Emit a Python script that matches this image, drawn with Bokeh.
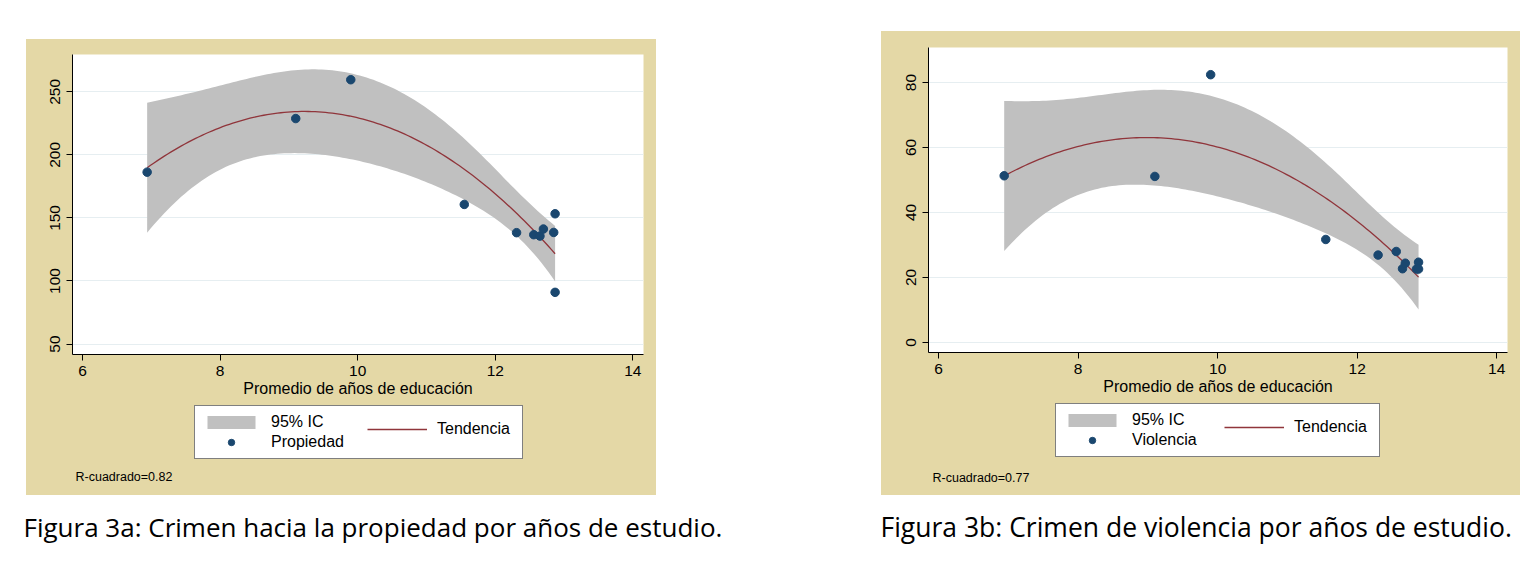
import numpy as np
from bokeh.plotting import figure
from bokeh.models import (Range1d, Legend, LegendItem, Label, Spacer)
from bokeh.layouts import row, column
from bokeh.embed import file_html
from bokeh.resources import INLINE

# ---------------- data ----------------
educ_a = [6.94, 9.10, 9.90, 11.55, 12.31, 12.56, 12.65, 12.70, 12.85, 12.87, 12.87]
propiedad = [186.3, 228.8, 259.6, 160.7, 138.3, 136.7, 135.6, 141.2, 138.5, 153.3, 91.0]

educ_b = [6.94, 9.10, 9.90, 11.55, 12.30, 12.56, 12.65, 12.69, 12.85, 12.88, 12.88]
violencia = [51.3, 51.1, 82.4, 31.7, 26.9, 28.0, 22.7, 24.4, 22.6, 24.7, 22.6]

x_ticks = [6, 8, 10, 12, 14]
y_ticks_a = [50, 100, 150, 200, 250]
y_ticks_b = [0, 20, 40, 60, 80]

label_x = "Promedio de años de educación"
legend_ci = "95% IC"
legend_fit = "Tendencia"
r2_a = "R-cuadrado=0.82"
r2_b = "R-cuadrado=0.77"
caption_a = "Figura 3a: Crimen hacia la propiedad por años de estudio."
caption_b = "Figura 3b: Crimen de violencia por años de estudio."

# ---------------- styles ----------------
BEIGE = "#e4d8a6"
GRID = "#e6eef1"
NAVY = "#1a476f"
MAROON = "#90353b"
CI_GRAY = "#c0c0c0"
FONT = "Liberation Sans"
T975 = 2.306  # Student t, 0.975 quantile, 8 degrees of freedom (11 obs - 3)


def qfit_ci(x, y, n=120):
    """Quadratic least-squares fit with 95% CI of the mean prediction."""
    x = np.asarray(x, float)
    y = np.asarray(y, float)
    X = np.column_stack([np.ones_like(x), x, x ** 2])
    beta, *_ = np.linalg.lstsq(X, y, rcond=None)
    resid = y - X @ beta
    s2 = resid @ resid / (len(x) - 3)
    xtxi = np.linalg.inv(X.T @ X)
    xg = np.linspace(x.min(), x.max(), n)
    G = np.column_stack([np.ones_like(xg), xg, xg ** 2])
    yhat = G @ beta
    se = np.sqrt(s2 * np.einsum("ij,jk,ik->i", G, xtxi, G))
    return xg, yhat, yhat - T975 * se, yhat + T975 * se


def add_series(p, xs, ys, fitres):
    xg, yhat, lo, hi = fitres
    band = p.varea(x=xg, y1=lo, y2=hi, fill_color=CI_GRAY, fill_alpha=1.0)
    fit = p.line(x=xg, y=yhat, line_color=MAROON, line_width=1.3)
    pts = p.scatter(x=xs, y=ys, size=8.5, fill_color=NAVY, line_color=NAVY)
    return band, fit, pts


def plot_panel(xs, ys, fitres, yticks, yrange, w, h, borders):
    p = figure(width=w, height=h, title=None,
               x_range=Range1d(5.855, 14.155), y_range=Range1d(*yrange),
               output_backend="svg", toolbar_location=None,
               min_border_left=borders[0], min_border_right=borders[1],
               min_border_top=borders[2], min_border_bottom=borders[3])
    p.border_fill_color = BEIGE
    p.background_fill_color = "white"
    p.outline_line_color = None

    add_series(p, xs, ys, fitres)

    p.xgrid.visible = False
    p.ygrid.ticker = yticks
    p.ygrid.grid_line_color = GRID
    p.ygrid.grid_line_width = 1

    for ax in (p.xaxis[0], p.yaxis[0]):
        ax.axis_line_color = "black"
        ax.axis_line_width = 1
        ax.major_tick_line_color = "black"
        ax.major_tick_in = 0
        ax.major_tick_out = 6
        ax.minor_tick_line_color = None
        ax.major_label_text_font = FONT
        ax.major_label_text_font_size = "15.5px"
        ax.major_label_text_color = "black"
    p.xaxis.ticker = x_ticks
    p.yaxis.ticker = yticks
    p.xaxis.major_label_standoff = 5
    p.yaxis.major_label_standoff = 6
    p.yaxis.major_label_orientation = "vertical"
    p.xaxis.axis_label = label_x
    p.xaxis.axis_label_text_font = FONT
    p.xaxis.axis_label_text_font_size = "16px"
    p.xaxis.axis_label_text_font_style = "normal"
    p.xaxis.axis_label_text_color = "black"
    p.xaxis.axis_label_standoff = 1
    return p


def legend_panel(xs, ys, fitres, series_name, r2_text, w, h,
                 box_x, box_y, box_w, col2_x, r2_x, r2_y):
    # ranges chosen so that the series itself lies outside this strip;
    # its renderers only feed the legend keys
    p = figure(width=w, height=h, title=None,
               x_range=Range1d(-20, -19), y_range=Range1d(-20, -19),
               x_axis_location=None, y_axis_location=None,
               output_backend="svg", toolbar_location=None, min_border=0)
    p.outline_line_color = None
    p.xgrid.visible = False
    p.ygrid.visible = False
    p.background_fill_alpha = 0.0
    p.border_fill_alpha = 0.0

    band, fit, pts = add_series(p, xs, ys, fitres)

    common = dict(glyph_width=60, glyph_height=16, label_standoff=10,
                  label_height=20, spacing=0, padding=6, margin=0,
                  label_text_font=FONT, label_text_font_size="16px",
                  label_text_color="black", orientation="vertical")
    l1 = Legend(items=[LegendItem(label=legend_ci, renderers=[band]),
                       LegendItem(label=series_name, renderers=[pts])],
                location=(box_x, box_y), label_width=box_w - 82,
                border_line_color="black", border_line_width=1,
                background_fill_color="white", background_fill_alpha=1.0,
                **common)
    l2 = Legend(items=[LegendItem(label=legend_fit, renderers=[fit])],
                location=(col2_x, box_y + 20),
                border_line_color=None, background_fill_alpha=0.0,
                **common)
    p.add_layout(l1, "center")
    p.add_layout(l2, "center")
    p.add_layout(Label(x=r2_x, y=r2_y, x_units="screen", y_units="screen",
                       text=r2_text, text_font=FONT,
                       text_font_size="12.5px", text_color="black",
                       text_baseline="alphabetic"))
    return p


fit_a = qfit_ci(educ_a, propiedad)
fit_b = qfit_ci(educ_b, violencia)

pa = plot_panel(educ_a, propiedad, fit_a, y_ticks_a, (41.7, 279.6), 630, 366, (46, 13, 15, 51))
pa_leg = legend_panel(educ_a, propiedad, fit_a, "Propiedad", r2_a, 630, 90,
                      122, 36, 327, 295, 3, 19)

pb = plot_panel(educ_b, violencia, fit_b, y_ticks_b, (-3.08, 90.77), 639, 372, (47, 13, 16, 51))
pb_leg = legend_panel(educ_b, violencia, fit_b, "Violencia", r2_b, 639, 92,
                      127, 38, 323, 296, 4, 18)

cap = figure(width=1530, height=54, title=None,
             x_range=Range1d(0, 1530), y_range=Range1d(0, 54),
             x_axis_location=None, y_axis_location=None,
             output_backend="svg", toolbar_location=None, min_border=0)
cap.outline_line_color = None
cap.xgrid.visible = False
cap.ygrid.visible = False
cap.background_fill_color = "white"
cap.border_fill_color = "white"
cap.add_layout(Label(x=23, y=23, text=caption_a, text_font="Open Sans",
                     text_font_size="26px", text_color="black",
                     text_baseline="alphabetic"))
cap.add_layout(Label(x=880, y=23, text=caption_b, text_font="Open Sans",
                     text_font_size="26.5px", text_color="black",
                     text_baseline="alphabetic"))

panel_a = column(pa, pa_leg, styles={"background-color": BEIGE})
panel_b = column(pb, pb_leg, styles={"background-color": BEIGE})

layout = column(
    row(Spacer(width=26), column(Spacer(height=39), panel_a),
        Spacer(width=225), column(Spacer(height=31), panel_b)),
    cap,
)

open("out.html", "w").write(file_html(layout, INLINE))
